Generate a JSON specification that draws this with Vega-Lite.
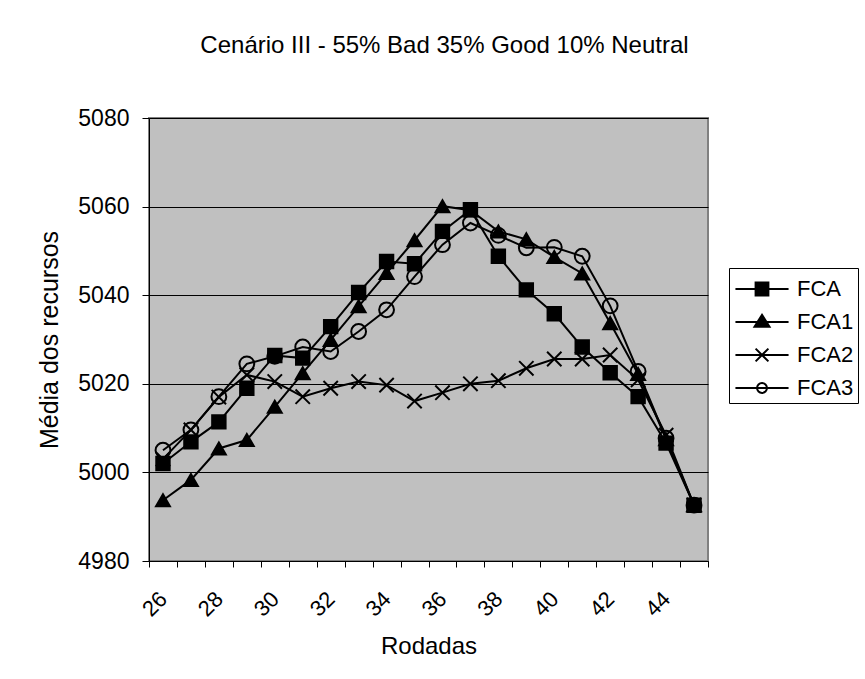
{
  "$schema": "https://vega.github.io/schema/vega-lite/v6.json",
  "width": 559,
  "height": 443,
  "autosize": {"type": "none"},
  "padding": {"left": 149, "top": 118, "right": 157, "bottom": 118},
  "background": "white",
  "title": {
    "text": "Cenário III - 55% Bad 35% Good 10% Neutral",
    "fontSize": 24,
    "fontWeight": "normal",
    "font": "Liberation Sans",
    "color": "black",
    "offset": 49,
    "dx": 16
  },
  "data": {
    "values": [
      {"rodada": 26, "serie": "FCA", "valor": 5002.0},
      {"rodada": 27, "serie": "FCA", "valor": 5006.9},
      {"rodada": 28, "serie": "FCA", "valor": 5011.4},
      {"rodada": 29, "serie": "FCA", "valor": 5019.0},
      {"rodada": 30, "serie": "FCA", "valor": 5026.4},
      {"rodada": 31, "serie": "FCA", "valor": 5025.8},
      {"rodada": 32, "serie": "FCA", "valor": 5032.9},
      {"rodada": 33, "serie": "FCA", "valor": 5040.6},
      {"rodada": 34, "serie": "FCA", "valor": 5047.6},
      {"rodada": 35, "serie": "FCA", "valor": 5047.1},
      {"rodada": 36, "serie": "FCA", "valor": 5054.4},
      {"rodada": 37, "serie": "FCA", "valor": 5059.3},
      {"rodada": 38, "serie": "FCA", "valor": 5048.8},
      {"rodada": 39, "serie": "FCA", "valor": 5041.2},
      {"rodada": 40, "serie": "FCA", "valor": 5035.8},
      {"rodada": 41, "serie": "FCA", "valor": 5028.3},
      {"rodada": 42, "serie": "FCA", "valor": 5022.5},
      {"rodada": 43, "serie": "FCA", "valor": 5017.1},
      {"rodada": 44, "serie": "FCA", "valor": 5006.6},
      {"rodada": 45, "serie": "FCA", "valor": 4992.6},
      {"rodada": 26, "serie": "FCA1", "valor": 4993.7},
      {"rodada": 27, "serie": "FCA1", "valor": 4998.3},
      {"rodada": 28, "serie": "FCA1", "valor": 5005.4},
      {"rodada": 29, "serie": "FCA1", "valor": 5007.3},
      {"rodada": 30, "serie": "FCA1", "valor": 5014.8},
      {"rodada": 31, "serie": "FCA1", "valor": 5022.4},
      {"rodada": 32, "serie": "FCA1", "valor": 5029.9},
      {"rodada": 33, "serie": "FCA1", "valor": 5037.5},
      {"rodada": 34, "serie": "FCA1", "valor": 5045.0},
      {"rodada": 35, "serie": "FCA1", "valor": 5052.4},
      {"rodada": 36, "serie": "FCA1", "valor": 5060.1},
      {"rodada": 37, "serie": "FCA1", "valor": 5059.2},
      {"rodada": 38, "serie": "FCA1", "valor": 5054.4},
      {"rodada": 39, "serie": "FCA1", "valor": 5052.6},
      {"rodada": 40, "serie": "FCA1", "valor": 5048.6},
      {"rodada": 41, "serie": "FCA1", "valor": 5044.9},
      {"rodada": 42, "serie": "FCA1", "valor": 5033.7},
      {"rodada": 43, "serie": "FCA1", "valor": 5022.2},
      {"rodada": 44, "serie": "FCA1", "valor": 5007.5},
      {"rodada": 45, "serie": "FCA1", "valor": 4992.6},
      {"rodada": 26, "serie": "FCA2", "valor": 5003.0},
      {"rodada": 27, "serie": "FCA2", "valor": 5009.6},
      {"rodada": 28, "serie": "FCA2", "valor": 5017.0},
      {"rodada": 29, "serie": "FCA2", "valor": 5022.0},
      {"rodada": 30, "serie": "FCA2", "valor": 5020.5},
      {"rodada": 31, "serie": "FCA2", "valor": 5017.1},
      {"rodada": 32, "serie": "FCA2", "valor": 5019.0},
      {"rodada": 33, "serie": "FCA2", "valor": 5020.5},
      {"rodada": 34, "serie": "FCA2", "valor": 5019.7},
      {"rodada": 35, "serie": "FCA2", "valor": 5016.1},
      {"rodada": 36, "serie": "FCA2", "valor": 5018.0},
      {"rodada": 37, "serie": "FCA2", "valor": 5020.0},
      {"rodada": 38, "serie": "FCA2", "valor": 5020.7},
      {"rodada": 39, "serie": "FCA2", "valor": 5023.5},
      {"rodada": 40, "serie": "FCA2", "valor": 5025.6},
      {"rodada": 41, "serie": "FCA2", "valor": 5025.6},
      {"rodada": 42, "serie": "FCA2", "valor": 5026.5},
      {"rodada": 43, "serie": "FCA2", "valor": 5020.9},
      {"rodada": 44, "serie": "FCA2", "valor": 5008.4},
      {"rodada": 45, "serie": "FCA2", "valor": 4992.6},
      {"rodada": 26, "serie": "FCA3", "valor": 5005.0},
      {"rodada": 27, "serie": "FCA3", "valor": 5009.6},
      {"rodada": 28, "serie": "FCA3", "valor": 5017.1},
      {"rodada": 29, "serie": "FCA3", "valor": 5024.5},
      {"rodada": 30, "serie": "FCA3", "valor": 5026.2},
      {"rodada": 31, "serie": "FCA3", "valor": 5028.3},
      {"rodada": 32, "serie": "FCA3", "valor": 5027.3},
      {"rodada": 33, "serie": "FCA3", "valor": 5031.8},
      {"rodada": 34, "serie": "FCA3", "valor": 5036.7},
      {"rodada": 35, "serie": "FCA3", "valor": 5044.2},
      {"rodada": 36, "serie": "FCA3", "valor": 5051.4},
      {"rodada": 37, "serie": "FCA3", "valor": 5056.3},
      {"rodada": 38, "serie": "FCA3", "valor": 5053.5},
      {"rodada": 39, "serie": "FCA3", "valor": 5050.7},
      {"rodada": 40, "serie": "FCA3", "valor": 5050.8},
      {"rodada": 41, "serie": "FCA3", "valor": 5048.8},
      {"rodada": 42, "serie": "FCA3", "valor": 5037.6},
      {"rodada": 43, "serie": "FCA3", "valor": 5022.8},
      {"rodada": 44, "serie": "FCA3", "valor": 5007.7},
      {"rodada": 45, "serie": "FCA3", "valor": 4992.6}
    ]
  },
  "encoding": {
    "x": {
      "field": "rodada",
      "type": "quantitative",
      "scale": {"domain": [25.5, 45.5], "nice": false, "zero": false},
      "axis": {
        "values": [25.5, 26.5, 27.5, 28.5, 29.5, 30.5, 31.5, 32.5, 33.5, 34.5, 35.5, 36.5, 37.5, 38.5, 39.5, 40.5, 41.5, 42.5, 43.5, 44.5, 45.5],
        "labelExpr": "((datum.value + 0.5) % 2 == 0 && datum.value < 44.6) ? '' + (datum.value + 0.5) : ''",
        "labelAngle": -45,
        "labelOffset": 7,
        "labelPadding": 21,
        "labelFlush": false,
        "labelOverlap": false,
        "labelBound": false,
        "labelFontSize": 22,
        "labelColor": "black",
        "labelFont": "Liberation Sans",
        "tickSize": 6,
        "tickColor": "black",
        "domainColor": "black",
        "grid": false,
        "title": "Rodadas",
        "titleFontSize": 24,
        "titleFontWeight": "normal",
        "titleFont": "Liberation Sans",
        "titleColor": "black",
        "titlePadding": 14
      }
    },
    "y": {
      "field": "valor",
      "type": "quantitative",
      "scale": {"domain": [4980, 5080], "nice": false, "zero": false},
      "axis": {
        "values": [4980, 5000, 5020, 5040, 5060, 5080],
        "format": "d",
        "grid": true,
        "gridColor": "black",
        "gridWidth": 1,
        "gridOpacity": 1,
        "tickSize": 7,
        "tickColor": "black",
        "domainColor": "black",
        "labelFontSize": 23,
        "labelColor": "black",
        "labelFont": "Liberation Sans",
        "labelPadding": 13,
        "title": "Média dos recursos",
        "titleFontSize": 25,
        "titleFontWeight": "normal",
        "titleFont": "Liberation Sans",
        "titleColor": "black",
        "titlePadding": 15
      }
    }
  },
  "layer": [
    {
      "mark": {"type": "line", "color": "black", "strokeWidth": 2},
      "encoding": {"detail": {"field": "serie", "type": "nominal"}}
    },
    {
      "mark": {"type": "point", "stroke": "black", "strokeWidth": 2, "opacity": 1},
      "encoding": {
        "shape": {
          "field": "serie",
          "type": "nominal",
          "scale": {"domain": ["FCA", "FCA1", "FCA2", "FCA3"], "range": ["square", "triangle-up", "M-1,-1L1,1M-1,1L1,-1", "circle"]},
          "legend": null
        },
        "fill": {
          "field": "serie",
          "type": "nominal",
          "scale": {"domain": ["FCA", "FCA1", "FCA2", "FCA3"], "range": ["black", "black", "transparent", "transparent"]},
          "legend": null
        },
        "size": {
          "field": "serie",
          "type": "nominal",
          "scale": {"domain": ["FCA", "FCA1", "FCA2", "FCA3"], "range": [180, 220, 170, 110]},
          "legend": null
        }
      }
    },
    {
      "mark": {"type": "point", "stroke": "black", "strokeWidth": 2, "opacity": 0, "size": 1024},
      "encoding": {
        "shape": {
          "field": "serie",
          "type": "nominal",
          "scale": {"domain": ["FCA", "FCA1", "FCA2", "FCA3"], "range": [
            "M-1.66,0H1.66M-0.4,-0.4H0.4V0.4H-0.4Z",
            "M-1.66,0H1.66M0,-0.45L0.47,0.3H-0.47Z",
            "M-1.66,0H1.66M-0.4,-0.4L0.4,0.4M-0.4,0.4L0.4,-0.4",
            "M-1.66,0H1.66M0.31,0A0.31,0.31,0,1,1,-0.31,0A0.31,0.31,0,1,1,0.31,0Z"
          ]},
          "legend": {
            "orient": "none",
            "legendX": 580,
            "legendY": 150,
            "title": null,
            "strokeColor": "black",
            "fillColor": "white",
            "padding": 4,
            "symbolOffset": 12,
            "labelOffset": 18,
            "labelFontSize": 22,
            "labelFont": "Liberation Sans",
            "labelColor": "black",
            "rowPadding": 5,
            "symbolStrokeColor": "black",
            "symbolStrokeWidth": 2,
            "symbolOpacity": 1,
            "symbolSize": 1024,
            "encode": {
              "symbols": {
                "update": {
                  "stroke": {"value": "black"},
                  "strokeWidth": {"value": 2},
                  "strokeOpacity": {"value": 1},
                  "opacity": {"value": 1}
                }
              }
            }
          }
        },
        "fill": {
          "field": "serie",
          "type": "nominal",
          "scale": {"domain": ["FCA", "FCA1", "FCA2", "FCA3"], "range": ["black", "black", "transparent", "transparent"]},
          "legend": {
            "orient": "none",
            "legendX": 580,
            "legendY": 150,
            "title": null,
            "strokeColor": "black",
            "fillColor": "white",
            "padding": 4,
            "symbolOffset": 12,
            "labelOffset": 18,
            "labelFontSize": 22,
            "labelFont": "Liberation Sans",
            "labelColor": "black",
            "rowPadding": 5,
            "symbolStrokeColor": "black",
            "symbolStrokeWidth": 2,
            "symbolOpacity": 1,
            "symbolSize": 1024,
            "encode": {
              "symbols": {
                "update": {
                  "stroke": {"value": "black"},
                  "strokeWidth": {"value": 2},
                  "strokeOpacity": {"value": 1},
                  "opacity": {"value": 1}
                }
              }
            }
          }
        }
      }
    }
  ],
  "resolve": {"scale": {"shape": "independent", "fill": "independent", "size": "independent"}},
  "config": {
    "view": {"fill": "#C0C0C0", "stroke": "#808080", "strokeWidth": 2},
    "font": "Liberation Sans"
  }
}
